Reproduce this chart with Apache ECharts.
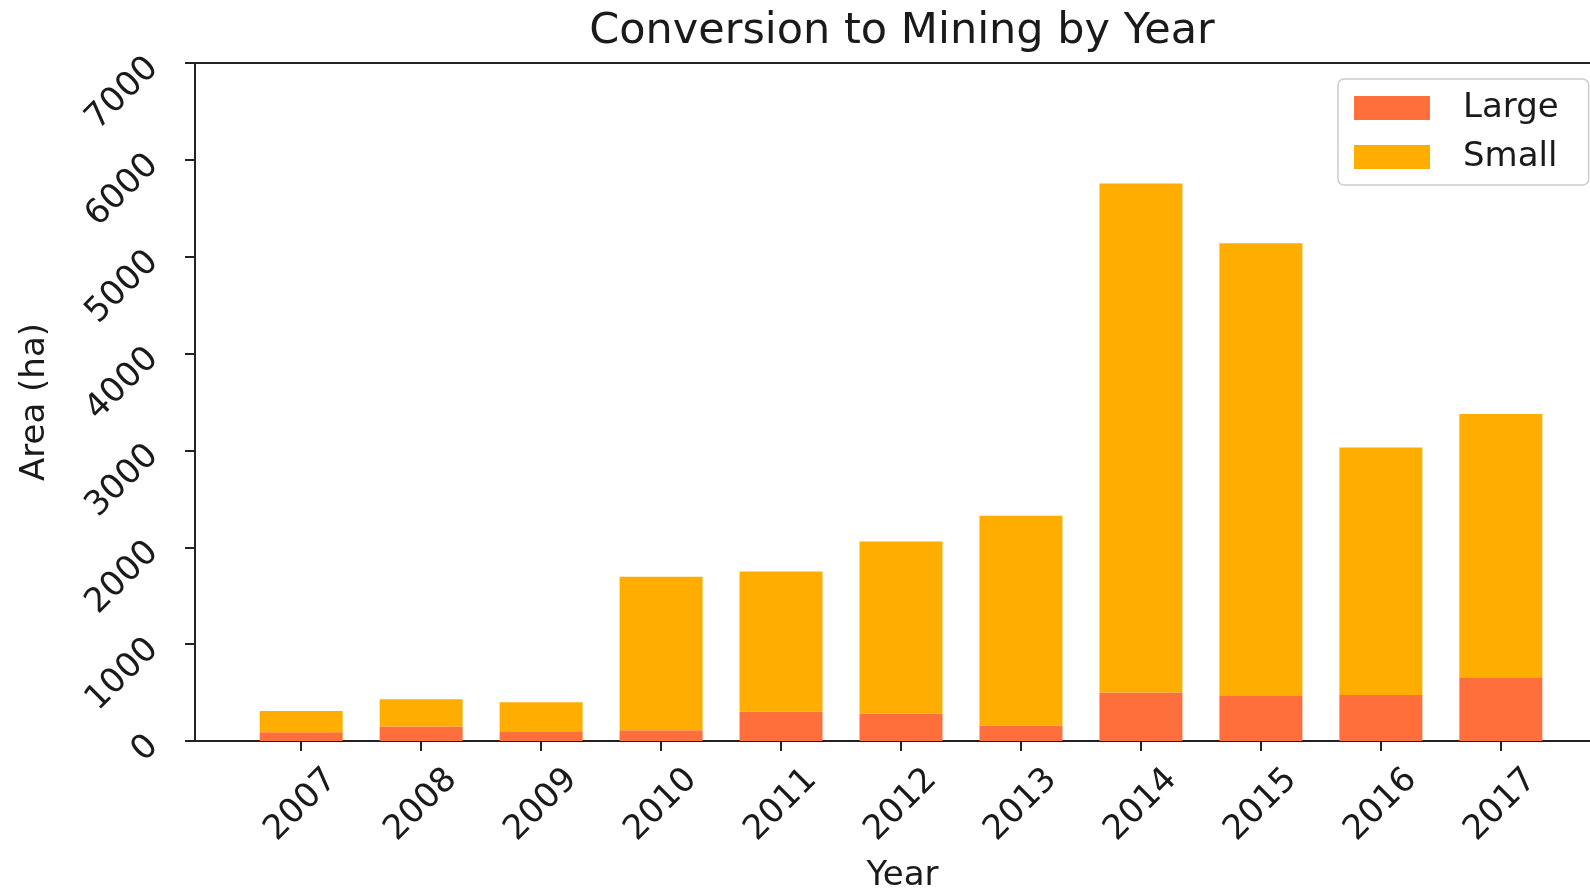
<!DOCTYPE html>
<html>
<head>
<meta charset="utf-8">
<script src="https://cdn.jsdelivr.net/npm/echarts@6/dist/echarts.min.js"></script>
<style>
html,body{margin:0;padding:0;background:#fff;}
#chart{width:1590px;height:893px;}
</style>
</head>
<body>
<div id="chart"></div>
<script>
const years = [2007, 2008, 2009, 2010, 2011, 2012, 2013, 2014, 2015, 2016, 2017];
const largeValues = [90, 150, 100, 110, 305, 285, 160, 500, 465, 475, 650];
const smallValues = [220, 280, 300, 1585, 1445, 1775, 2165, 5255, 4675, 2555, 2725];
const yTicks = [0, 1000, 2000, 3000, 4000, 5000, 6000, 7000];

const FONT = 'DejaVu Sans';
const TXT = '#1a1a1a';

const chart = echarts.init(document.getElementById('chart'), null, {renderer: 'canvas'});
chart.setOption({
  animation: false,
  backgroundColor: '#fff',
  textStyle: {fontFamily: FONT, color: TXT},
  title: {
    text: 'Conversion to Mining by Year',
    left: 897,
    textAlign: 'center',
    top: 5,
    textStyle: {fontFamily: FONT, fontSize: 43, fontWeight: 'normal', color: TXT}
  },
  legend: {
    orient: 'vertical',
    left: 1338,
    top: 79,
    padding: [12, 30, 11, 16],
    itemWidth: 76,
    itemHeight: 24,
    itemGap: 15,
    icon: 'rect',
    borderColor: '#cccccc',
    borderWidth: 1.5,
    borderRadius: 6,
    backgroundColor: '#ffffff',
    textStyle: {fontFamily: FONT, fontSize: 34, color: TXT, lineHeight: 34, padding: [0, 0, 0, 28]},
    data: ['Large', 'Small']
  },
  grid: {
    left: 195, right: -2, top: 63, bottom: 152,
    outerBoundsMode: 'none',
    containLabel: false,
    show: true, borderColor: '#222', borderWidth: 2
  },
  xAxis: {
    type: 'value',
    min: 2006.115,
    max: 2017.76,
    name: 'Year',
    nameLocation: 'middle',
    nameGap: 118,
    nameTextStyle: {fontFamily: FONT, fontSize: 34, color: TXT, padding: [0, 0, 0, 18]},
    axisLine: {show: true, onZero: false, lineStyle: {color: '#222', width: 2}},
    axisTick: {show: true, length: 10, customValues: years, lineStyle: {color: '#222', width: 2}},
    axisLabel: {
      customValues: years,
      formatter: v => String(Math.round(v)),
      rotate: 45,
      align: 'center',
      verticalAlign: 'middle',
      margin: 64,
      fontFamily: FONT, fontSize: 34, color: TXT
    },
    splitLine: {show: false}
  },
  yAxis: {
    type: 'value',
    min: 0,
    max: 7000,
    interval: 1000,
    name: 'Area (ha)',
    nameLocation: 'middle',
    nameRotate: 90,
    nameGap: 143,
    nameTextStyle: {fontFamily: FONT, fontSize: 34, color: TXT},
    axisLine: {show: true, lineStyle: {color: '#222', width: 2}},
    axisTick: {show: true, length: 10, lineStyle: {color: '#222', width: 2}},
    axisLabel: {
      customValues: yTicks,
      formatter: v => String(v),
      rotate: 45,
      margin: 42,
      fontFamily: FONT, fontSize: 34, color: TXT
    },
    splitLine: {show: false}
  },
  series: [
    {
      name: 'Large',
      type: 'bar',
      stack: 'total',
      barWidth: 83,
      encode: {x: 1, y: 0},
      itemStyle: {color: '#FF6F3C'},
      data: years.map((y, i) => [largeValues[i], y])
    },
    {
      name: 'Small',
      type: 'bar',
      stack: 'total',
      barWidth: 83,
      encode: {x: 1, y: 0},
      itemStyle: {color: '#FFAE00'},
      data: years.map((y, i) => [smallValues[i], y])
    }
  ]
});
</script>
</body>
</html>
